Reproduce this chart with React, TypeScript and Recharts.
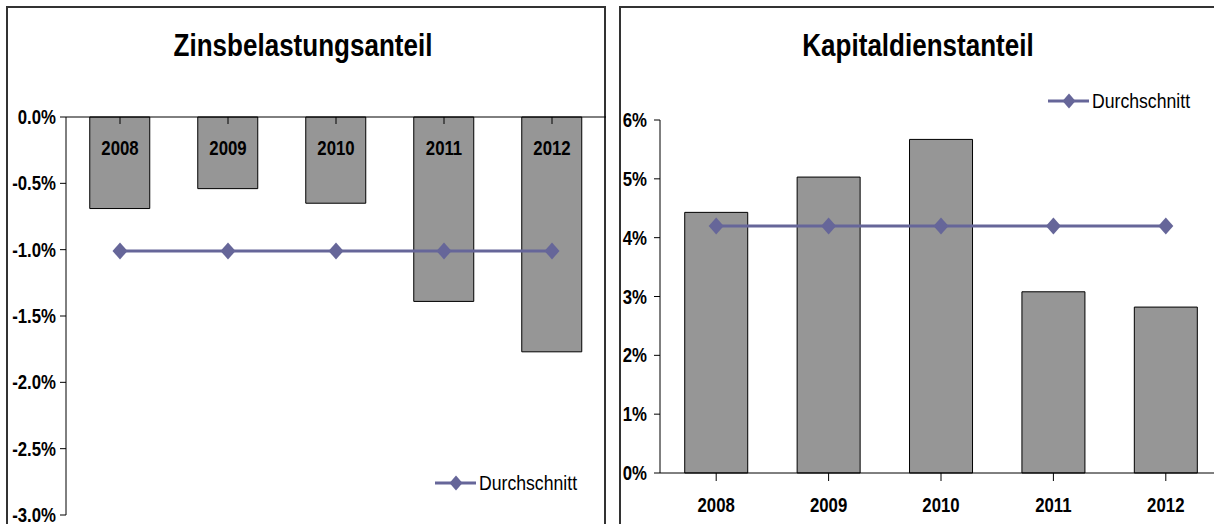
import { ComposedChart, Bar, Line, XAxis, YAxis, Legend } from "recharts";

const years = ["2008", "2009", "2010", "2011", "2012"];
const zinsShare = [-0.69, -0.54, -0.65, -1.39, -1.77];
const zinsAverage = [-1.01, -1.01, -1.01, -1.01, -1.01];
const kapitalShare = [4.43, 5.03, 5.67, 3.08, 2.82];
const kapitalAverage = [4.2, 4.2, 4.2, 4.2, 4.2];
const zinsTicks = [0, -0.5, -1, -1.5, -2, -2.5, -3];
const kapitalTicks = [0, 1, 2, 3, 4, 5, 6];

// no narrow font installed, so Liberation Sans gets squeezed horizontally
const FONT = "'Liberation Sans', Arial, sans-serif";
const SQUEEZE = 0.84;
const BAR = "#969696";
const AVG = "#666699";

const zinsData = years.map((year, i) => ({ year, value: zinsShare[i], avg: zinsAverage[i] }));
const kapitalData = years.map((year, i) => ({ year, value: kapitalShare[i], avg: kapitalAverage[i] }));

function Narrow({ x, y, size, bold, anchor, dy, children }: any) {
  return (
    <g transform={`translate(${x},${y}) scale(${SQUEEZE},1)`}>
      <text
        x={0}
        y={0}
        dy={dy}
        textAnchor={anchor}
        fontFamily={FONT}
        fontSize={size}
        fontWeight={bold ? "bold" : "normal"}
        fill="#000"
      >
        {children}
      </text>
    </g>
  );
}

function Diamond(props: any) {
  const { cx, cy, index } = props;
  if (cx == null || cy == null) return null;
  return (
    <path
      key={`d-${index}`}
      d={`M${cx},${cy - 8.5}L${cx + 7.5},${cy}L${cx},${cy + 8.5}L${cx - 7.5},${cy}Z`}
      fill={AVG}
    />
  );
}

function YearTick({ x, y, payload, shift }: any) {
  return (
    <Narrow x={x} y={y + shift} size={20} bold anchor="middle">
      {payload.value}
    </Narrow>
  );
}

function PctTick({ x, y, payload, digits }: any) {
  const v = Number(payload.value);
  return (
    <Narrow x={x} y={y} size={20} bold anchor="end" dy="0.355em">
      {`${v.toFixed(digits)}%`}
    </Narrow>
  );
}

function AvgLegend() {
  return (
    <div
      style={{
        display: "flex",
        alignItems: "center",
        fontFamily: FONT,
        fontSize: 21,
        lineHeight: "22px",
        color: "#000",
        whiteSpace: "nowrap",
      }}
    >
      <svg width={42} height={18}>
        <line x1={0} x2={41} y1={9} y2={9} stroke={AVG} strokeWidth={3} />
        <path d="M21,1.5L27.5,9L21,16.5L14.5,9Z" fill={AVG} />
      </svg>
      <span style={{ marginLeft: 2, display: "inline-block", transform: `scaleX(${SQUEEZE})`, transformOrigin: "left center" }}>
        Durchschnitt
      </span>
    </div>
  );
}

export default function App() {
  return (
    <div style={{ position: "absolute", left: 0, top: 0, width: 1214, height: 524, overflow: "hidden", background: "#fff" }}>
      <svg width={1214} height={524} style={{ position: "absolute", left: 0, top: 0 }}>
        <rect x={7} y={7} width={598} height={600} fill="none" stroke="#333" strokeWidth={2} />
        <rect x={620} y={7} width={700} height={600} fill="none" stroke="#333" strokeWidth={2} />
        <Narrow x={303} y={56} size={31} bold anchor="middle">
          Zinsbelastungsanteil
        </Narrow>
        <Narrow x={918} y={56} size={31} bold anchor="middle">
          Kapitaldienstanteil
        </Narrow>
      </svg>

      <div style={{ position: "absolute", left: 0, top: 0 }}>
        <ComposedChart width={612} height={524} data={zinsData} margin={{ top: 117, right: 6, bottom: 9, left: 6 }} barCategoryGap="22%">
          <XAxis
            dataKey="year"
            orientation="top"
            mirror
            interval={0}
            tickSize={7}
            tickMargin={0}
            axisLine={{ stroke: "#000" }}
            tickLine={{ stroke: "#000" }}
            tick={<YearTick shift={31} />}
          />
          <YAxis
            type="number"
            domain={[-3, 0]}
            ticks={zinsTicks}
            width={60}
            tickSize={6}
            tickMargin={4}
            axisLine={{ stroke: "#000" }}
            tickLine={{ stroke: "#000" }}
            tick={<PctTick digits={1} />}
          />
          <Bar dataKey="value" fill={BAR} stroke="#000" strokeWidth={1} legendType="none" isAnimationActive={false} />
          <Line
            dataKey="avg"
            name="Durchschnitt"
            stroke={AVG}
            strokeWidth={3}
            dot={Diamond}
            activeDot={false}
            isAnimationActive={false}
          />
          <Legend layout="vertical" align="center" verticalAlign="middle" wrapperStyle={{ left: 435, top: 472 }} content={<AvgLegend />} />
        </ComposedChart>
      </div>

      <div style={{ position: "absolute", left: 610, top: 0 }}>
        <ComposedChart width={620} height={524} data={kapitalData} margin={{ top: 120, right: 8, bottom: 11, left: 6 }} barCategoryGap="22%">
          <XAxis
            dataKey="year"
            interval={0}
            height={40}
            tickSize={8}
            tickMargin={0}
            axisLine={{ stroke: "#000" }}
            tickLine={{ stroke: "#000" }}
            tick={<YearTick shift={31} />}
          />
          <YAxis
            type="number"
            domain={[0, 6]}
            ticks={kapitalTicks}
            width={44}
            tickSize={6}
            tickMargin={7}
            axisLine={{ stroke: "#000" }}
            tickLine={{ stroke: "#000" }}
            tick={<PctTick digits={0} />}
          />
          <Bar dataKey="value" fill={BAR} stroke="#000" strokeWidth={1} legendType="none" isAnimationActive={false} />
          <Line
            dataKey="avg"
            name="Durchschnitt"
            stroke={AVG}
            strokeWidth={3}
            dot={Diamond}
            activeDot={false}
            isAnimationActive={false}
          />
          <Legend layout="vertical" align="center" verticalAlign="middle" wrapperStyle={{ left: 438, top: 90 }} content={<AvgLegend />} />
        </ComposedChart>
      </div>
    </div>
  );
}
